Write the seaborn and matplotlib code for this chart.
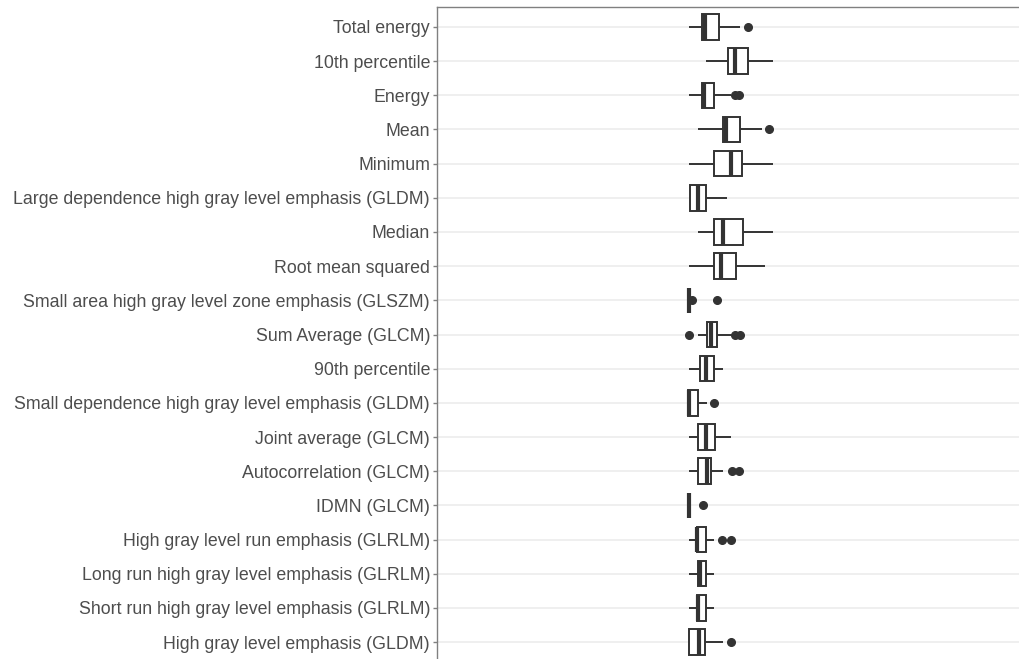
import numpy as np
import pandas as pd
import matplotlib
matplotlib.use("Agg")
import matplotlib.pyplot as plt
import seaborn as sns

features = [
    "Total energy", "10th percentile", "Energy", "Mean", "Minimum",
    "Large dependence high gray level emphasis (GLDM)", "Median",
    "Root mean squared", "Small area high gray level zone emphasis (GLSZM)",
    "Sum Average (GLCM)", "90th percentile",
    "Small dependence high gray level emphasis (GLDM)", "Joint average (GLCM)",
    "Autocorrelation (GLCM)", "IDMN (GLCM)",
    "High gray level run emphasis (GLRLM)",
    "Long run high gray level emphasis (GLRLM)",
    "Short run high gray level emphasis (GLRLM)",
    "High gray level emphasis (GLDM)",
]
whisker_low = [0.3, 17.0, 0.3, 9.0, 0.3, 1.0, 8.7, 0.3, 0.3, 9.3, 0.3, -0.7, 0.3, 0.3, 0.3, 0.3, 0.3, 0.3, 0.3]
q1 =          [12.7, 39.0, 13.0, 33.7, 25.3, 1.0, 25.0, 25.0, 0.3, 17.7, 11.0, -0.7, 8.7, 8.7, 0.3, 7.7, 8.7, 7.7, 0.3]
median =      [16.0, 46.0, 15.0, 37.3, 42.0, 8.7, 33.7, 31.7, 0.3, 22.0, 16.7, 0.0, 17.0, 18.3, 0.3, 8.3, 11.0, 8.7, 10.0]
q3 =          [29.7, 59.3, 25.3, 51.0, 53.0, 17.0, 54.3, 46.7, 0.3, 27.7, 25.3, 8.7, 26.0, 22.0, 0.3, 17.0, 17.0, 17.0, 16.0]
whisker_high = [51.0, 84.3, 42.0, 72.7, 84.3, 37.7, 84.3, 76.0, 0.3, 42.5, 33.7, 17.7, 42.0, 33.7, 0.3, 25.3, 25.3, 25.3, 33.7]
outliers = [
    [59.0], [], [46.0, 50.3], [79.7], [], [], [], [], [3.0, 27.7],
    [0.3, 46.3, 51.0], [], [25.3], [], [43.0, 50.3], [13.7],
    [33.3, 42.0], [], [], [42.0],
]


def sample_with_stats(lo, a, m, b, hi, outs):
    low_out = [o for o in outs if o < a]
    high_out = [o for o in outs if o > b]
    k = max(len(low_out), len(high_out)) + 2
    vals = low_out + [lo] * (k - len(low_out))
    vals += [a] * k
    vals += [m] * k
    vals += [b]
    vals += [hi] * (k - len(high_out)) + high_out
    return vals


rows = []
for i, f in enumerate(features):
    for v in sample_with_stats(whisker_low[i], q1[i], median[i], q3[i], whisker_high[i], outliers[i]):
        rows.append({"feature": f, "value": v})
df = pd.DataFrame(rows)

sns.set_style("white")
plt.rcParams["font.family"] = ["Liberation Sans", "DejaVu Sans"]

W, H = 1019, 659
fig = plt.figure(figsize=(W / 100, H / 100), dpi=100)
ax = fig.add_axes([437 / W, -3 / H, 582 / W, 655 / H])

for i in range(len(features)):
    ax.axhline(i, color="#EBEBEB", lw=1.1, zorder=0)

dark = "#333333"
sns.boxplot(
    data=df, x="value", y="feature", order=features, orient="h",
    width=0.75, color="white", linecolor=dark, linewidth=1.4,
    showcaps=False, whis=1.5, ax=ax,
    flierprops=dict(marker="o", markerfacecolor=dark, markeredgecolor=dark, markersize=5.5),
    medianprops=dict(linewidth=3, color=dark),
    whiskerprops=dict(linewidth=1.4, color=dark),
)

ax.set_xlim(-252, 330)
ax.set_ylim(18.585, -0.585)
ax.set_xlabel("")
ax.set_ylabel("")
ax.set_xticks([])
for s in ["right", "bottom"]:
    ax.spines[s].set_visible(False)
for s in ["left", "top"]:
    ax.spines[s].set_color("#808080")
    ax.spines[s].set_linewidth(1.0)
ax.tick_params(axis="y", length=3, width=1, color="#808080", pad=2,
               labelsize=12.8, labelcolor="#4D4D4D", left=True)
ax.grid(False)

fig.savefig("out.png", dpi=100)
